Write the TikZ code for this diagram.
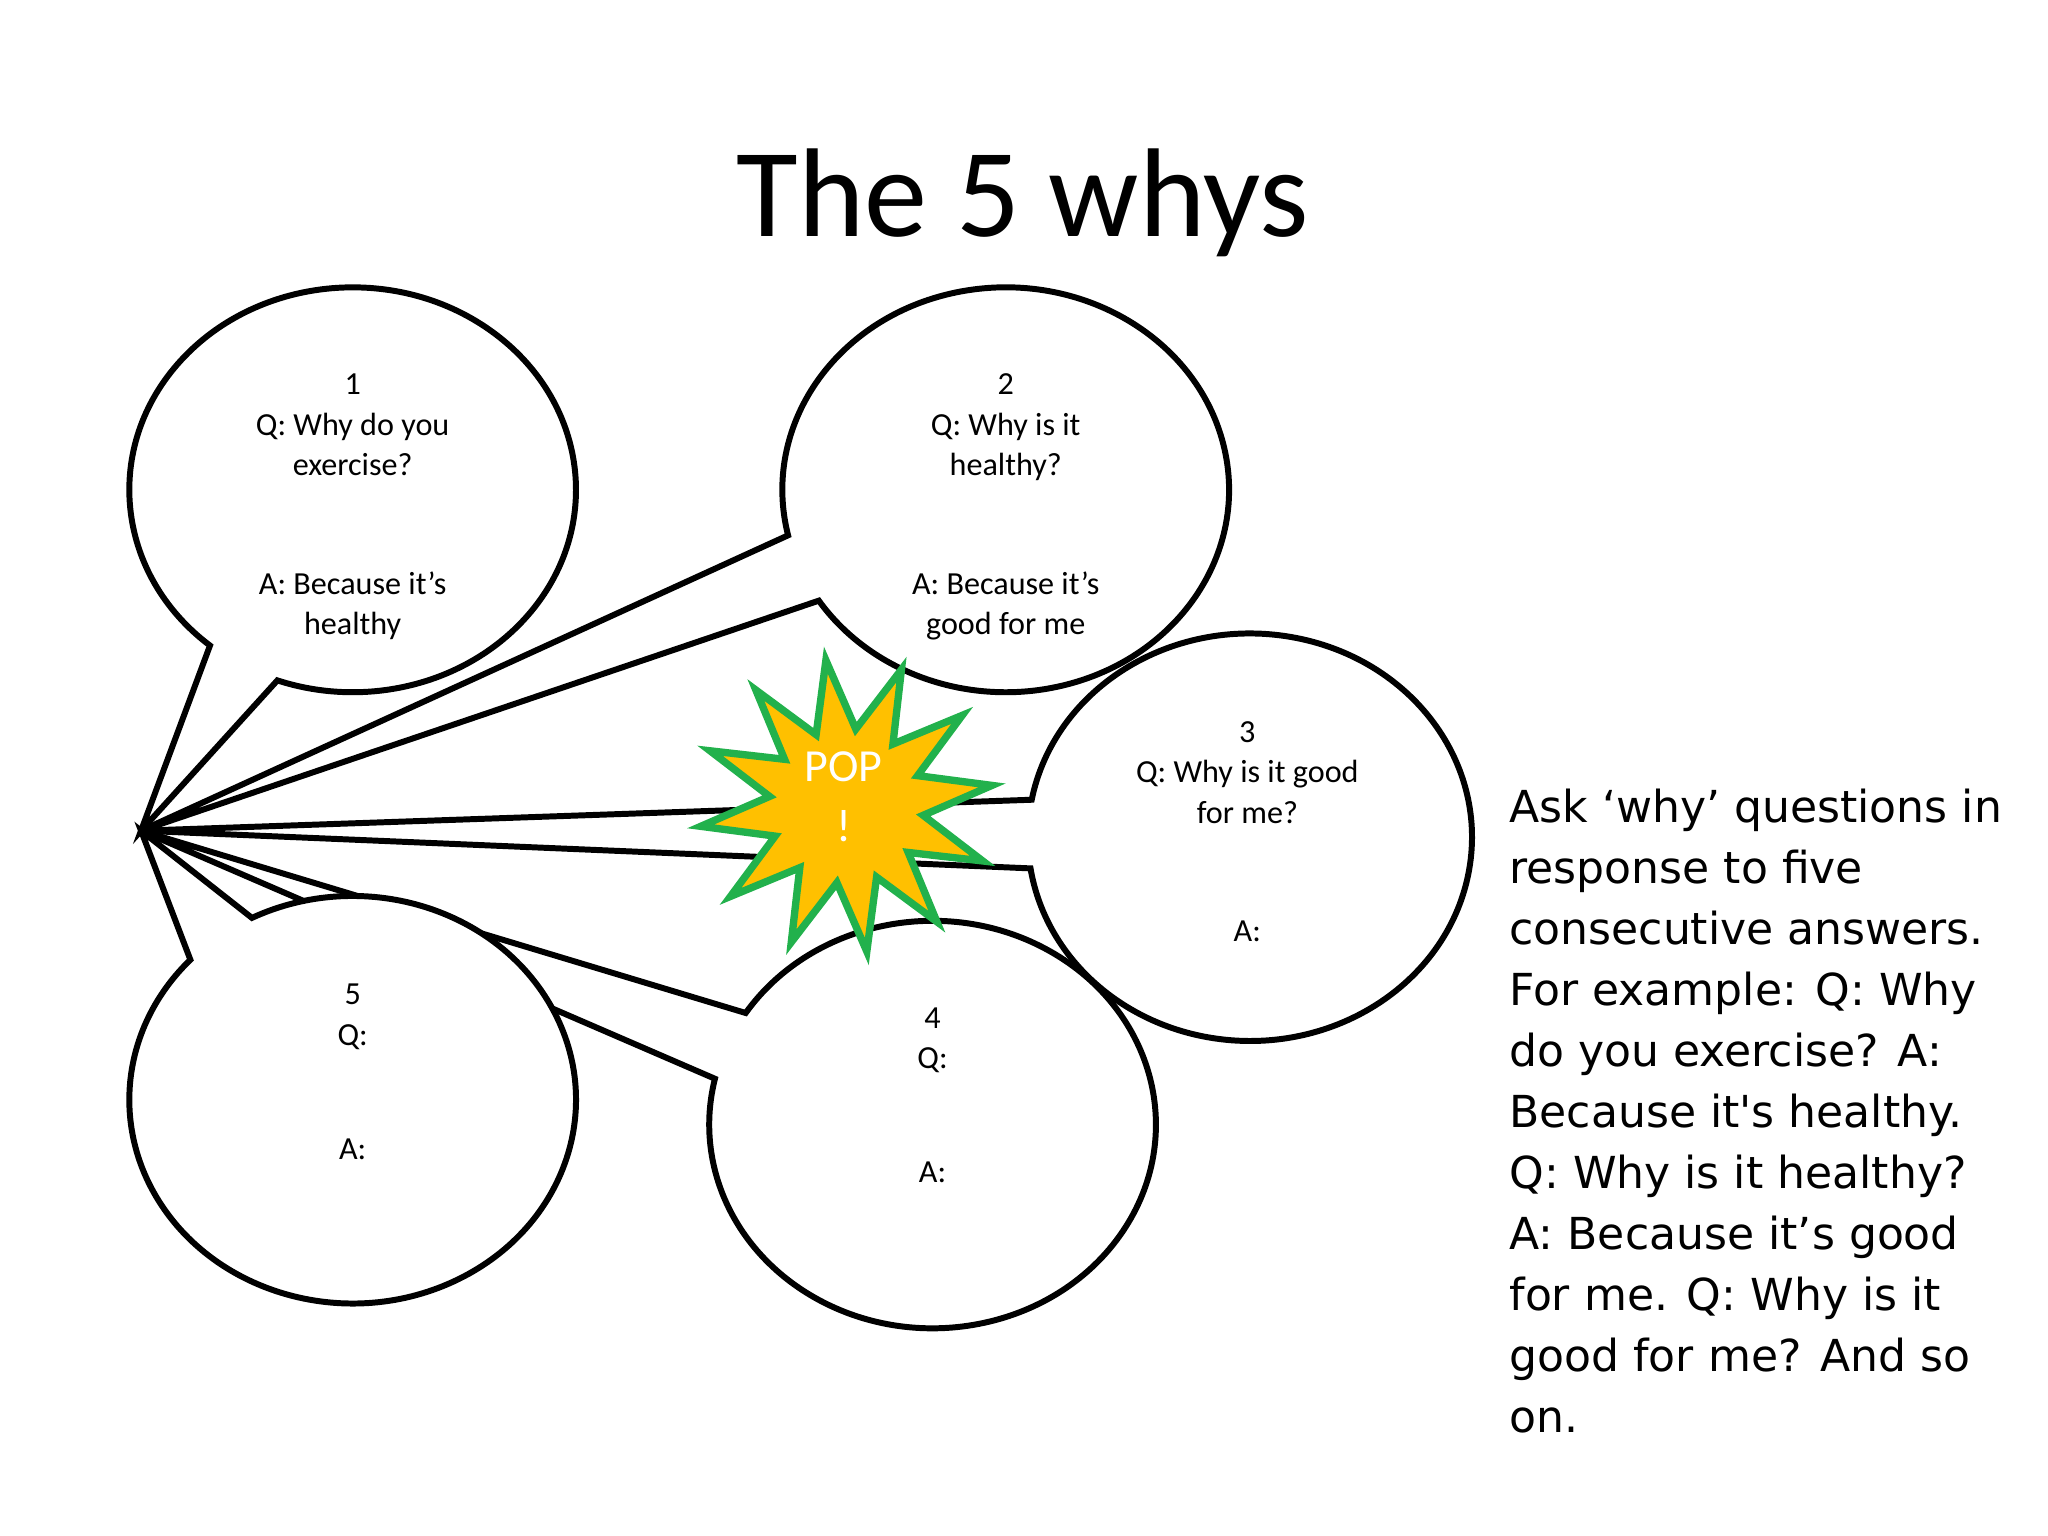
\documentclass[tikz,border=0pt]{standalone}
\usepackage{fontspec}
\setmainfont{Carlito}
\newfontfamily\comic{DejaVu Sans}
\usetikzlibrary{shapes.geometric,calc}
\definecolor{popyellow}{HTML}{FFC000}
\definecolor{popgreen}{HTML}{22B14C}
\begin{document}
\begin{tikzpicture}[x=0.01cm,y=-0.01cm,
  bub/.style={draw=black,line width=1.3pt,fill=white,line join=miter},
  btxt/.style={font=\fontsize{7}{8.8}\selectfont,align=center}]
\useasboundingbox (0,0) rectangle (1568,1176);
\coordinate (tip) at (108,636);
\coordinate (c1) at (270,375);
\coordinate (c2) at (770,375);
\coordinate (c3) at (957,641);
\coordinate (c4) at (714,861);
\coordinate (c5) at (270,842);
% bubble 4
\draw[bub] ($(c4)+(213.2:171 and 156)$) arc[start angle=213.2,end angle=553,x radius=171,y radius=156] -- (tip) -- cycle;
% bubble 3
\draw[bub] ($(c3)+(190.6:170 and 156)$) arc[start angle=190.6,end angle=531.2,x radius=170,y radius=156] -- (tip) -- cycle;
% bubble 2
\draw[bub] ($(c2)+(167:171 and 155)$) arc[start angle=167,end angle=506.8,x radius=171,y radius=155] -- (tip) -- cycle;
% bubble 1
\draw[bub] ($(c1)+(129.7:171 and 155)$) arc[start angle=129.7,end angle=469.7,x radius=171,y radius=155] -- (tip) -- cycle;
% bubble 5
\draw[bub] ($(c5)+(243.2:171 and 156)$) arc[start angle=243.2,end angle=583.4,x radius=171,y radius=156] -- (tip) -- cycle;
% star
\node[star,star points=12,star point ratio=1.9,minimum size=2.25cm,inner sep=0pt,fill=popyellow,draw=popgreen,line width=1.6pt,rotate=8] (pop) at (648,617) {};
\node[font=\fontsize{10}{13}\selectfont,text=white,align=center] (poptxt) at (646,610) {POP\\!};
% texts
\node[btxt,anchor=north] (t1) at (270,274) {1\\Q: Why do you\\exercise?\\[17pt] A: Because it's\\healthy};
\node[btxt,anchor=north] (t2) at (770,274) {2\\Q: Why is it\\healthy?\\[17pt] A: Because it’s\\good for me};
\node[btxt,anchor=north] (t3) at (955,540) {3\\Q: Why is it good\\for me?\\[17pt] A:};
\node[btxt,anchor=north] (t4) at (714,759) {4\\Q:\\[16pt] A:};
\node[btxt,anchor=north] (t5) at (270,741) {5\\Q:\\[16pt] A:};
\node[font=\fontsize{27.5}{30}\selectfont] (title) at (783,155) {The 5 whys};
\node[anchor=north west,align=left,inner sep=0pt,font=\comic\fontsize{9.6}{13.3}\selectfont] (side) at (1155,603) {Ask ‘why’ questions in\\response to five\\consecutive answers.\\For example: Q: Why\\do you exercise? A:\\Because it's healthy.\\Q: Why is it healthy?\\A: Because it’s good\\for me. Q: Why is it\\good for me? And so\\on.};
\end{tikzpicture}
\end{document}
